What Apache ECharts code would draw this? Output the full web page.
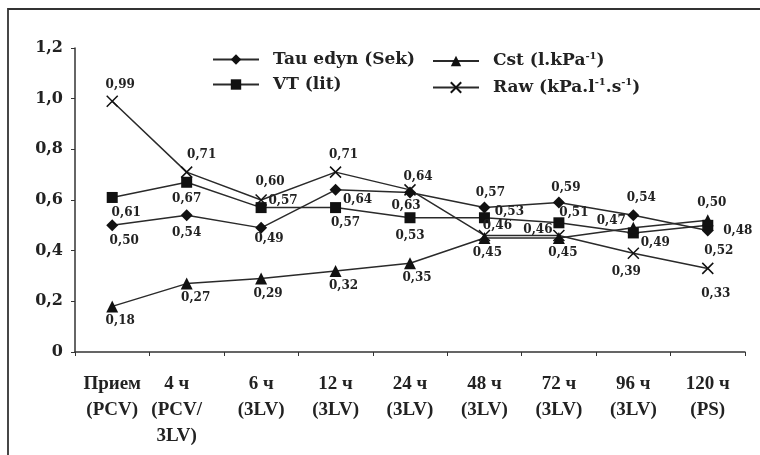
<!DOCTYPE html>
<html>
<head>
<meta charset="utf-8">
<script src="https://cdn.jsdelivr.net/npm/echarts@6/dist/echarts.min.js"></script>
<style>html,body{margin:0;padding:0;background:#fff}#c{width:760px;height:455px}</style>
</head>
<body>
<div id="c"></div>
<script>
const categories = ['Прием\n(PCV)', '4 ч\n(PCV/\n3LV)', '6 ч\n(3LV)', '12 ч\n(3LV)', '24 ч\n(3LV)', '48 ч\n(3LV)', '72 ч\n(3LV)', '96 ч\n(3LV)', '120 ч\n(PS)'];
const tau = [0.50, 0.54, 0.49, 0.64, 0.63, 0.57, 0.59, 0.54, 0.48];
const vt  = [0.61, 0.67, 0.57, 0.57, 0.53, 0.53, 0.51, 0.47, 0.50];
const cst = [0.18, 0.27, 0.29, 0.32, 0.35, 0.45, 0.45, 0.49, 0.52];
const raw = [0.99, 0.71, 0.60, 0.71, 0.64, 0.46, 0.46, 0.39, 0.33];
const yTicks = [0, 0.2, 0.4, 0.6, 0.8, 1.0, 1.2];

// label offsets (style only)
const tauOff = [[12,16],[0,18],[8,11],[22,10],[-4,13],[6,-15],[7,-15],[8,-17],[30,0]];
const vtOff  = [[14,15],[0,17],[22,-7],[10,15],[0,18],[25,-6],[15,-10],[-22,-12],[4,-22]];
const cstOff = [[8,14],[9,14],[7,15],[8,15],[7,15],[3,15],[4,15],[22,15],[11,31]];
const rawOff = [[8,-16],[15,-17],[9,-18],[8,-17],[8,-13],[13,-10],[-21,-6],[-7,19],[8,25]];

const fmt = v => v === 0 ? '0' : v.toFixed(2).replace('.', ',');
const LINE = '#2a2a2a';
const MARK = '#111';
const SERIF = '"DejaVu Serif", serif';

function mk(name, vals, offs, symbol, size, extra) {
  return Object.assign({
    name, type: 'line', symbol, symbolSize: size,
    lineStyle: { color: LINE, width: 1.5 },
    itemStyle: { color: MARK },
    emphasis: { disabled: true },
    animation: false,
    z: 3,
    data: vals.map((v, i) => ({
      value: v,
      label: { show: true, position: 'inside', offset: offs[i], formatter: p => fmt(p.value),
        fontFamily: SERIF, fontWeight: 'bold', fontSize: 12, color: '#222' }
    }))
  }, extra || {});
}

const rich = {
  n: { fontFamily: SERIF, fontWeight: 'bold', fontSize: 17, color: '#222', lineHeight: 20 },
  s: { fontFamily: SERIF, fontWeight: 'bold', fontSize: 10, color: '#222', verticalAlign: 'top', lineHeight: 20, padding: [0,0,8,0] }
};
const legendFmt = name => {
  if (name.indexOf('Cst') === 0) return '{n|Cst (l.kPa}{s|-1}{n|)}';
  if (name.indexOf('Raw') === 0) return '{n|Raw (kPa.l}{s|-1}{n|.s}{s|-1}{n|)}';
  return '{n|' + name + '}';
};

const catFont = { fontFamily: '"Liberation Serif", serif', fontWeight: 'bold', fontSize: 19, lineHeight: 26, color: '#222' };

const chart = echarts.init(document.getElementById('c'), null, { renderer: 'canvas' });
chart.setOption({
  backgroundColor: '#fff',
  animation: false,
  graphic: [{ type: 'rect', shape: { x: 8, y: 9, width: 800, height: 500 }, style: { fill: 'none', stroke: '#333', lineWidth: 1.8 }, silent: true }],
  grid: { left: 75, right: 15, top: 48, bottom: 103 },
  legend: [
    { orient: 'vertical', left: 207, top: 46, itemWidth: 46, itemHeight: 13, itemGap: 8,
      data: ['Tau edyn (Sek)', 'VT (lit)'], formatter: legendFmt,
      textStyle: { rich, padding: [0,0,0,9] }, selectedMode: false },
    { orient: 'vertical', left: 427, top: 46, itemWidth: 46, itemHeight: 13, itemGap: 8,
      data: ['Cst (l.kPa-1)', 'Raw (kPa.l-1.s-1)'], formatter: legendFmt,
      textStyle: { rich, padding: [0,0,0,9] }, selectedMode: false }
  ],
  xAxis: {
    type: 'category', data: categories, boundaryGap: true,
    axisLine: { lineStyle: { color: '#333', width: 1.5 } },
    axisTick: { show: true, length: 4, lineStyle: { color: '#333' } },
    axisLabel: Object.assign({ interval: 0, margin: 19,
      formatter: (v, i) => i === 1 ? v.split('\n').map(s => '{a|' + s + '}').join('\n') : v,
      rich: { a: Object.assign({ padding: [0, 20, 0, 0] }, catFont) } }, catFont),
    splitLine: { show: false }
  },
  yAxis: {
    type: 'value', min: 0, max: 1.2, interval: 0.2,
    axisLine: { show: true, lineStyle: { color: '#333', width: 1.5 } },
    axisTick: { show: true, length: 4, lineStyle: { color: '#333' } },
    axisLabel: { margin: 12, fontFamily: SERIF, fontWeight: 'bold', fontSize: 16, color: '#222',
      formatter: v => { const t = yTicks.find(x => Math.abs(x - v) < 1e-6); return t === 0 ? '0' : (t !== undefined ? t : v).toFixed(1).replace('.', ','); } },
    splitLine: { show: false }
  },
  series: [
    mk('Tau edyn (Sek)', tau, tauOff, 'diamond', 12),
    mk('VT (lit)', vt, vtOff, 'rect', 11),
    mk('Cst (l.kPa-1)', cst, cstOff, 'triangle', 12),
    mk('Raw (kPa.l-1.s-1)', raw, rawOff, 'path://M0,0L10,10M10,0L0,10', 11,
      { itemStyle: { color: 'rgba(0,0,0,0)', borderColor: MARK, borderWidth: 1.5 } })
  ]
});
</script>
</body>
</html>
